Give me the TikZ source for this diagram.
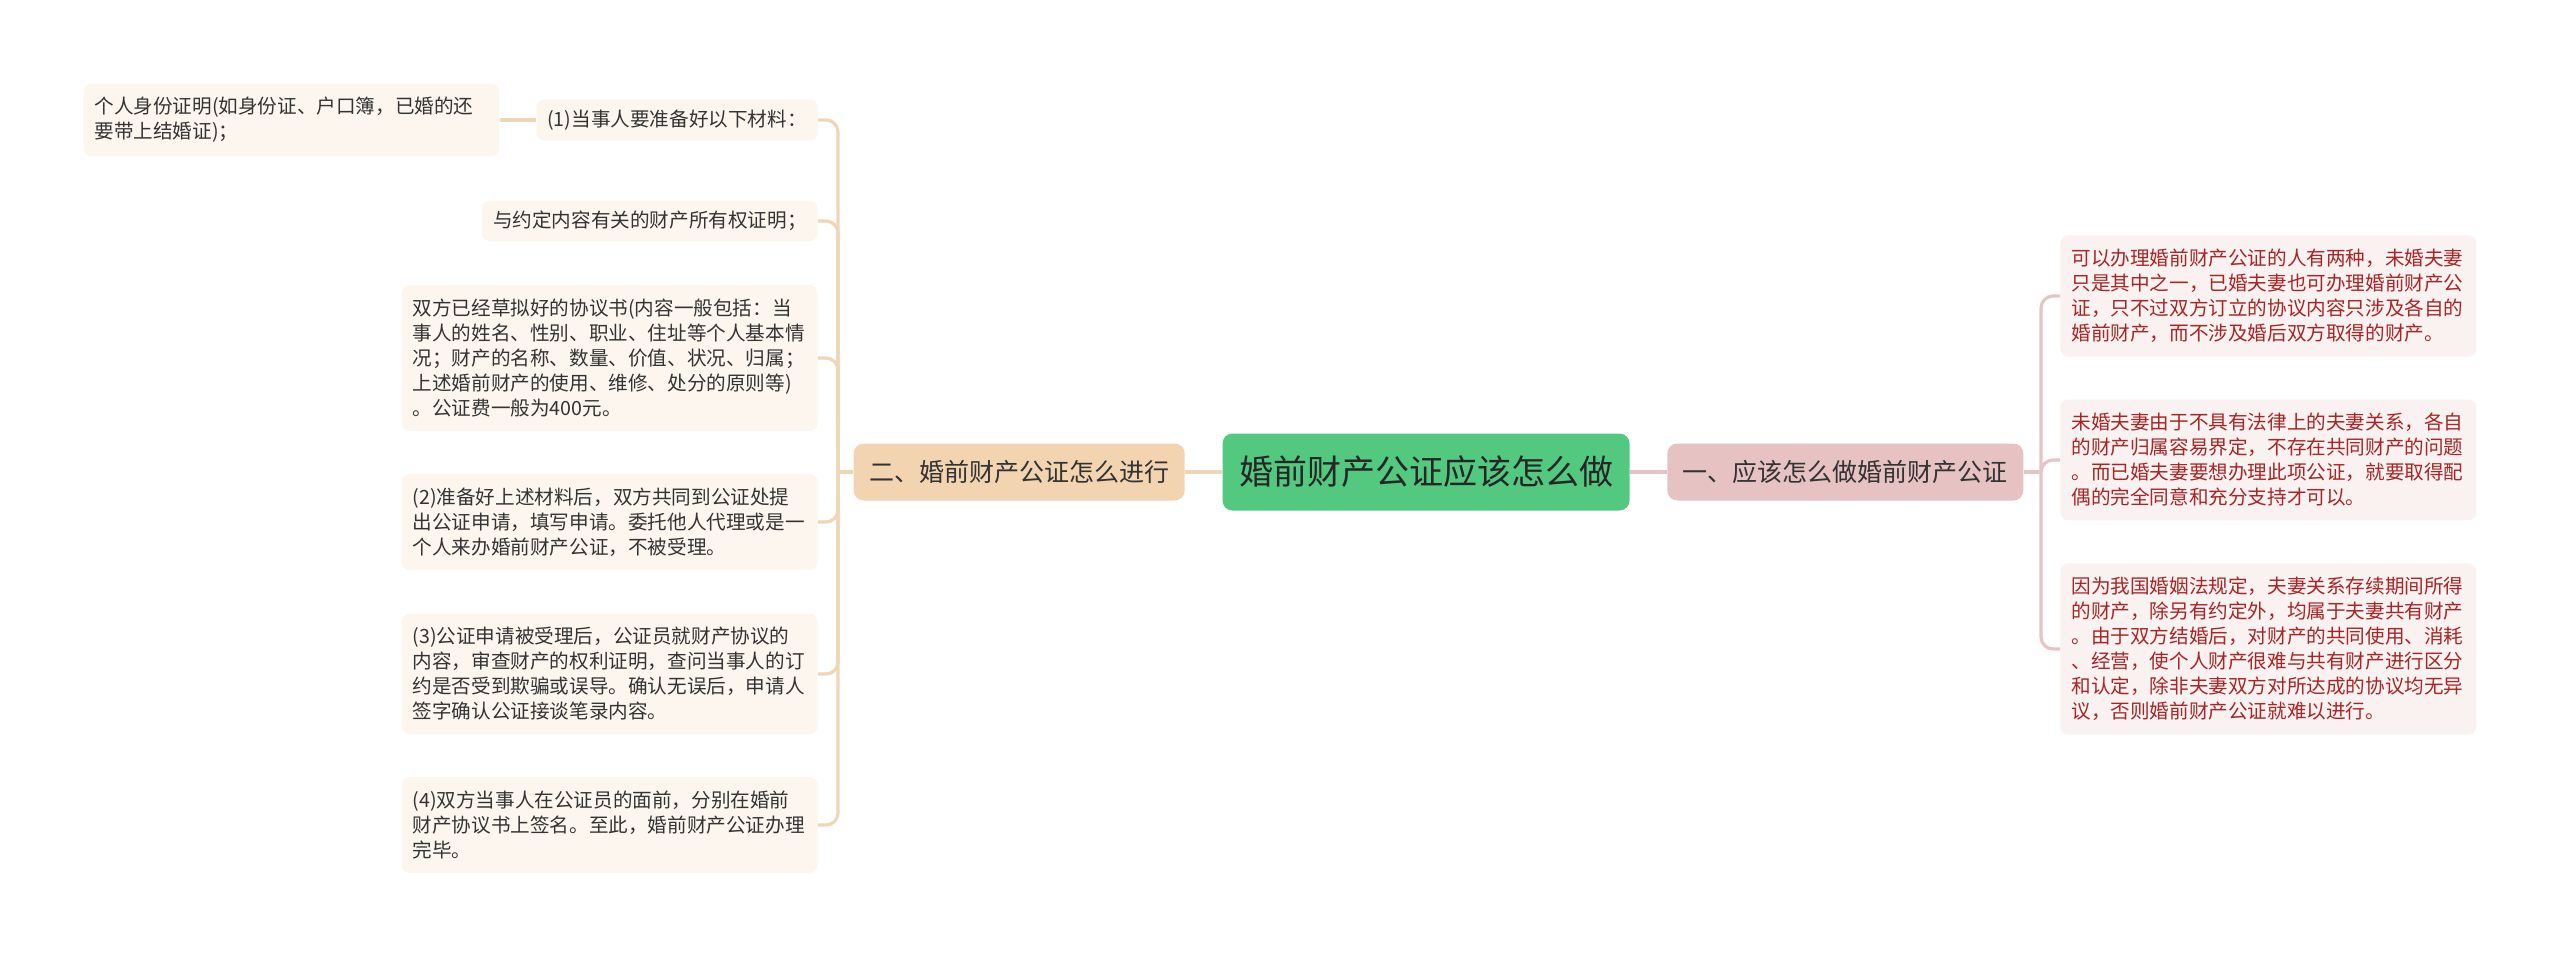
\documentclass[tikz,border=0pt]{standalone}
\usepackage{fontspec}
\newfontfamily\cjk{Noto Sans CJK SC}
\usetikzlibrary{positioning}
\definecolor{rootgreen}{RGB}{82,201,127}
\definecolor{branchpink}{RGB}{231,194,194}
\definecolor{branchtan}{RGB}{242,212,176}
\definecolor{leaftan}{RGB}{253,246,238}
\definecolor{leafpink}{RGB}{250,241,241}
\definecolor{linetan}{RGB}{240,213,182}
\definecolor{linepink}{RGB}{228,196,196}
\definecolor{textred}{RGB}{165,38,38}
\definecolor{textdark}{RGB}{51,51,51}

\begin{document}
\begin{tikzpicture}[
    x=0.5pt, y=-0.5pt,
    root/.style={rectangle, rounded corners=5pt, fill=rootgreen, minimum width=203.5pt,
                 minimum height=38.5pt, font=\cjk\fontsize{17}{20}\selectfont, text=black!85},
    branch/.style={rectangle, rounded corners=5pt, minimum height=28.5pt, inner xsep=7.75pt,
                   font=\cjk\fontsize{12.5}{15}\selectfont, text=textdark},
    leaf/.style={rectangle, rounded corners=4pt, align=left, inner xsep=5.5pt, inner ysep=6.85pt,
                 font=\cjk\fontsize{9.8}{12.5}\selectfont},
    wide/.style={text width=197pt},
    short/.style={inner ysep=5.2pt},
    lleaf/.style={leaf, fill=leaftan, text=textdark},
    rleaf/.style={leaf, wide, fill=leafpink, text=textred, anchor=west},
    llink/.style={draw=linetan, line width=1.6pt},
    rlink/.style={draw=linepink, line width=1.6pt},
    elbow/.style={rounded corners=6pt}
]
    \useasboundingbox (0,0) rectangle (2560,958);

    \node[root] (root) at (1426,472) {婚前财产公证应该怎么做};
    \node[branch, fill=branchpink, right=18.5pt of root] (how) {一、应该怎么做婚前财产公证};
    \node[branch, fill=branchtan, left=18.5pt of root] (steps) {二、婚前财产公证怎么进行};

    % right side
    \coordinate (rt) at (2041,472);
    \node[rleaf] (who) at (2060,296) {可以办理婚前财产公证的人有两种，未婚夫妻\\只是其中之一，已婚夫妻也可办理婚前财产公\\证，只不过双方订立的协议内容只涉及各自的\\婚前财产，而不涉及婚后双方取得的财产。};
    \node[rleaf] (unwed) at (2060,460) {未婚夫妻由于不具有法律上的夫妻关系，各自\\的财产归属容易界定，不存在共同财产的问题\\。而已婚夫妻要想办理此项公证，就要取得配\\偶的完全同意和充分支持才可以。};
    \node[rleaf] (law) at (2060,649) {因为我国婚姻法规定，夫妻关系存续期间所得\\的财产，除另有约定外，均属于夫妻共有财产\\。由于双方结婚后，对财产的共同使用、消耗\\、经营，使个人财产很难与共有财产进行区分\\和认定，除非夫妻双方对所达成的协议均无异\\议，否则婚前财产公证就难以进行。};

    % left side
    \coordinate (lt) at (838,472);
    \node[lleaf, short, anchor=east] (s1) at (818,120) {(1)当事人要准备好以下材料：};
    \node[lleaf, wide, left=18pt of s1] (idcard) {个人身份证明(如身份证、户口簿，已婚的还\\要带上结婚证)；};
    \node[lleaf, short, anchor=east] (deed) at (818,221) {与约定内容有关的财产所有权证明；};
    \node[lleaf, wide, anchor=east] (draft) at (818,358) {双方已经草拟好的协议书(内容一般包括：当\\事人的姓名、性别、职业、住址等个人基本情\\况；财产的名称、数量、价值、状况、归属；\\上述婚前财产的使用、维修、处分的原则等)\\。公证费一般为400元。};
    \node[lleaf, wide, anchor=east] (s2) at (818,522) {(2)准备好上述材料后，双方共同到公证处提\\出公证申请，填写申请。委托他人代理或是一\\个人来办婚前财产公证，不被受理。};
    \node[lleaf, wide, anchor=east] (s3) at (818,674) {(3)公证申请被受理后，公证员就财产协议的\\内容，审查财产的权利证明，查问当事人的订\\约是否受到欺骗或误导。确认无误后，申请人\\签字确认公证接谈笔录内容。};
    \node[lleaf, wide, anchor=east] (s4) at (818,825) {(4)双方当事人在公证员的面前，分别在婚前\\财产协议书上签名。至此，婚前财产公证办理\\完毕。};

    \draw[rlink] (root.east) -- (how.west);
    \draw[llink] (root.west) -- (steps.east);

    \draw[rlink] (how.east) -- (rt);
    \foreach \n in {who, unwed, law}
        \draw[rlink, elbow] (rt) |- (\n.west);

    \draw[llink] (steps.west) -- (lt);
    \foreach \n in {s1, deed, draft, s2, s3, s4}
        \draw[llink, elbow] (lt) |- (\n.east);
    \draw[llink] (s1.west) -- (idcard.east);
\end{tikzpicture}
\end{document}
